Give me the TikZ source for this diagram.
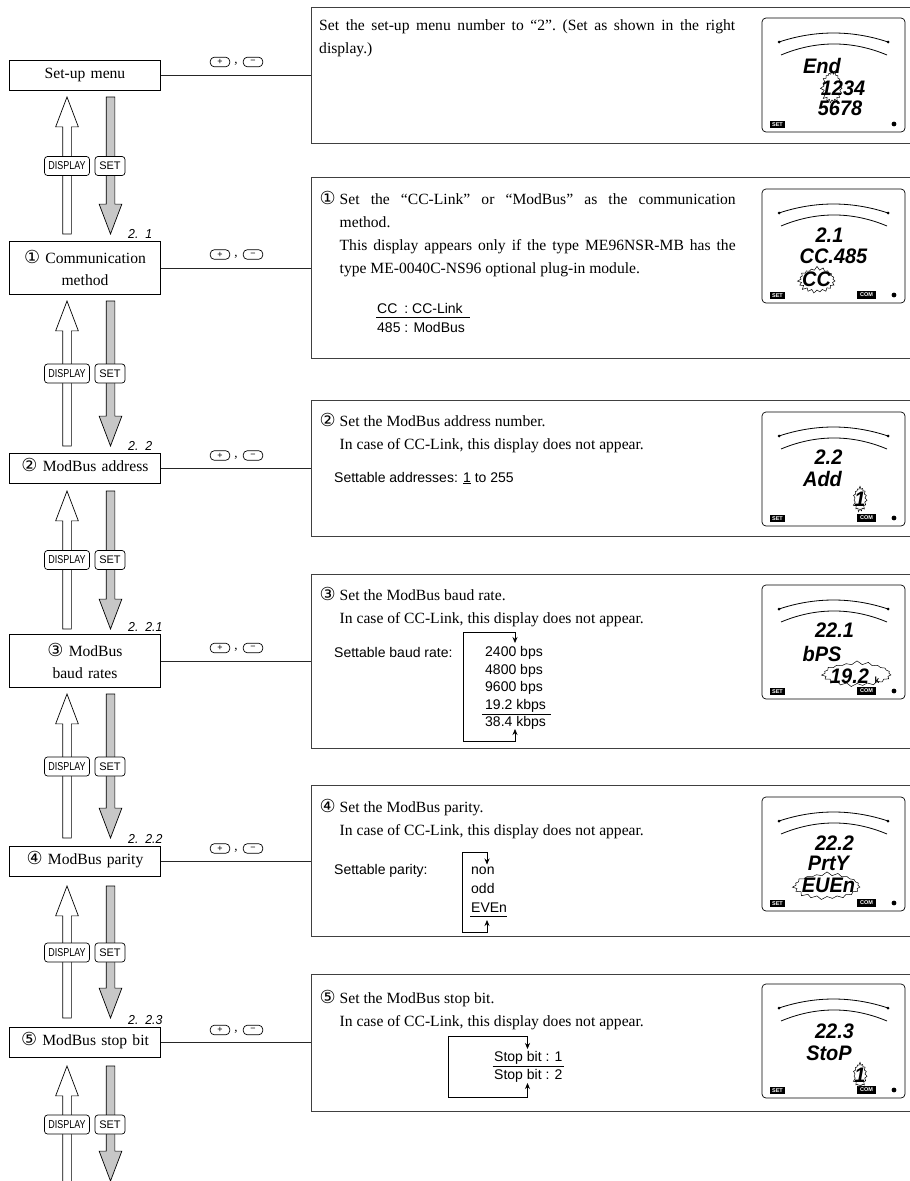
\documentclass[tikz,border=0pt]{standalone}
\usepackage{fontspec}
\setmainfont{Liberation Serif}
\setsansfont{Liberation Sans}
\newfontfamily\circfont[Scale=1.15]{DejaVu Sans}
\newfontfamily\lcdfont[FakeStretch=0.95]{Liberation Sans}
\newfontfamily\keyfont[FakeStretch=0.78]{Liberation Sans}
\usetikzlibrary{shapes.arrows, shapes.symbols, arrows.meta}

\tikzstyle{menubox} = [rectangle, draw=black, line width=0.8pt, fill=white, minimum width=151.7pt, minimum height=30pt, inner sep=0pt, text width=150pt, align=center, font=\fontsize{15.6}{22.7}\selectfont]
\tikzstyle{menuline} = [menubox, text height=10pt, text depth=3.5pt]
\tikzstyle{panelbox} = [rectangle, draw=black!75, line width=1pt, minimum width=604pt]
\tikzstyle{bodytext} = [anchor=north west, inner sep=0pt, text width=396pt, align=justify, font=\fontsize{15.6}{22.7}\selectfont\frenchspacing]
\tikzstyle{sanstext} = [anchor=west, inner sep=0pt, align=left, font=\sffamily\fontsize{14}{17.4}\selectfont]
\tikzstyle{link} = [line width=0.8pt, draw=black!85]
\tikzstyle{uparrow} = [single arrow, shape border rotate=90, draw=black, line width=0.7pt, fill=white, single arrow head extend=7pt, single arrow tip angle=41.6, inner sep=4pt, outer sep=0pt, anchor=tip]
\tikzstyle{downarrow} = [uparrow, shape border rotate=270, fill=black!22]
\tikzstyle{dispkey} = [rectangle, rounded corners=3pt, draw=black, line width=0.7pt, fill=white, minimum width=45pt, minimum height=19pt, inner sep=0pt, font=\keyfont\fontsize{11.5}{12}\selectfont]
\tikzstyle{setkey} = [dispkey, minimum width=30pt, font=\sffamily\fontsize{11}{12}\selectfont]
\tikzstyle{pmkey} = [rectangle, rounded corners=4pt, draw=black, line width=0.7pt, fill=white, minimum width=19.5pt, minimum height=9.5pt, inner sep=0pt, font=\sffamily\fontsize{9}{9}\selectfont]
\tikzstyle{commamark} = [inner sep=0pt, font=\fontsize{13}{13}\selectfont]
\tikzstyle{steptag} = [anchor=south west, inner sep=0pt, font=\lcdfont\itshape\fontsize{13}{13}\selectfont]
\tikzstyle{looparrow} = [line width=0.7pt, {Stealth[length=6pt,width=5pt]}-{Stealth[length=6pt,width=5pt]}]
\tikzstyle{listrule} = [line width=0.7pt]
\tikzstyle{lcdbox} = [rectangle, rounded corners=4pt, draw=black, line width=0.7pt, minimum width=143pt, minimum height=114pt]
\tikzstyle{lcdtag} = [rectangle, fill=black, text=white, inner sep=0pt, minimum width=15pt, minimum height=7.5pt, font=\sffamily\bfseries\fontsize{5.5}{6}\selectfont]
\tikzstyle{lcdtext} = [inner sep=0pt, font=\lcdfont\bfseries\itshape\fontsize{21}{21}\selectfont]
\tikzstyle{burst} = [starburst, starburst points=19, starburst point height=4pt, random starburst=7, draw=black, line width=0.5pt, fill=white, inner sep=0pt]

% LCD face: name, top edge
\newcommand{\lcdface}[2]{
\begin{scope}[shift={(0,#2)}]
\node (lcd#1) [lcdbox] at (833.5,57) {};
\draw [line width=0.8pt] (779,24) .. controls (815,12) and (852,12) .. (888,24);
\draw [line width=0.8pt] (781,37) .. controls (816,22.3) and (852,22.3) .. (887,37);
\fill (779,24) circle (1.5pt);
\fill (888,24) circle (1.5pt);
\fill (894,106) circle (2.4pt);
\node (set#1) [lcdtag] at (777.5,106.5) {SET};
\end{scope}
}

\begin{document}
\begin{tikzpicture}[x=1pt, y=-1pt]
\useasboundingbox (0,0) rectangle (910,1181);

% Menu steps
\node (menu) [menuline] at (85,75) {Set-up menu};
\node (comm) [menubox, minimum height=53pt] at (85,268) {{\circfont ①} Communication\\method};
\node (addr) [menuline] at (85,468) {{\circfont ②} ModBus address};
\node (baud) [menubox, minimum height=53pt] at (85,661) {{\circfont ③} ModBus\\baud rates};
\node (parity) [menuline] at (85,861) {{\circfont ④} ModBus parity};
\node (stop) [menuline] at (85,1042.5) {{\circfont ⑤} ModBus stop bit};

% Step numbers
\node (stepcomm) [steptag] at (128,239) {2.\ \ 1};
\node (stepaddr) [steptag] at (128,451) {2.\ \ 2};
\node (stepbaud) [steptag] at (128,632) {2.\ \ 2.1};
\node (stepparity) [steptag] at (128,844) {2.\ \ 2.2};
\node (stepstop) [steptag] at (128,1025) {2.\ \ 2.3};

% Big arrows
\node (up0) [uparrow, minimum height=137pt] at (67,97) {};
\node (down0) [downarrow, minimum height=137pt] at (110.5,234) {};
\node (up1) [uparrow, minimum height=145pt] at (67,301) {};
\node (down1) [downarrow, minimum height=145pt] at (110.5,446) {};
\node (up2) [uparrow, minimum height=138pt] at (67,491) {};
\node (down2) [downarrow, minimum height=138pt] at (110.5,629) {};
\node (up3) [uparrow, minimum height=144pt] at (67,694) {};
\node (down3) [downarrow, minimum height=144pt] at (110.5,838) {};
\node (up4) [uparrow, minimum height=132pt] at (67,886) {};
\node (down4) [downarrow, minimum height=132pt] at (110.5,1018) {};
\node (up5) [uparrow, minimum height=134pt] at (67,1066) {};
\node (down5) [downarrow, minimum height=115pt] at (110.5,1181) {};

% Keys on the arrows
\node (disp0) [dispkey] at (67,166) {DISPLAY};
\node (set0) [setkey] at (110,166) {SET};
\node (disp1) [dispkey] at (67,373.5) {DISPLAY};
\node (set1) [setkey] at (110,373.5) {SET};
\node (disp2) [dispkey] at (67,560) {DISPLAY};
\node (set2) [setkey] at (110,560) {SET};
\node (disp3) [dispkey] at (67,766.5) {DISPLAY};
\node (set3) [setkey] at (110,766.5) {SET};
\node (disp4) [dispkey] at (67,952.5) {DISPLAY};
\node (set4) [setkey] at (110,952.5) {SET};
\node (disp5) [dispkey] at (67,1124.5) {DISPLAY};
\node (set5) [setkey] at (110,1124.5) {SET};

% Panels
\node (panel0) [panelbox, minimum height=136pt] at (613,75) {};
\node (panel1) [panelbox, minimum height=181pt] at (613,268) {};
\node (panel2) [panelbox, minimum height=136pt] at (613,468) {};
\node (panel3) [panelbox, minimum height=174pt] at (613,661) {};
\node (panel4) [panelbox, minimum height=151pt] at (613,861) {};
\node (panel5) [panelbox, minimum height=137pt] at (613,1042.5) {};

% Connections
\draw [link] (menu) -- (panel0);
\draw [link] (comm) -- (panel1);
\draw [link] (addr) -- (panel2);
\draw [link] (baud) -- (panel3);
\draw [link] (parity) -- (panel4);
\draw [link] (stop) -- (panel5);

% Plus and minus keys
\node (plus0) [pmkey] at (220,62) {+};
\node (comma0) [commamark] at (236,64) {,};
\node (minus0) [pmkey] at (253,62) {−};
\node (plus1) [pmkey] at (220,254.5) {+};
\node (comma1) [commamark] at (236,256.5) {,};
\node (minus1) [pmkey] at (253,254.5) {−};
\node (plus2) [pmkey] at (220,455.5) {+};
\node (comma2) [commamark] at (236,457.5) {,};
\node (minus2) [pmkey] at (253,455.5) {−};
\node (plus3) [pmkey] at (220,648) {+};
\node (comma3) [commamark] at (236,650) {,};
\node (minus3) [pmkey] at (253,648) {−};
\node (plus4) [pmkey] at (220,848.5) {+};
\node (comma4) [commamark] at (236,850.5) {,};
\node (minus4) [pmkey] at (253,848.5) {−};
\node (plus5) [pmkey] at (220,1030) {+};
\node (comma5) [commamark] at (236,1032) {,};
\node (minus5) [pmkey] at (253,1030) {−};

% Panel texts
\node (text0) [bodytext, text width=416pt] at (319,19.5) {Set the set-up menu number to “2”. (Set as shown in the right\linebreak display.)};
\node (text1) [bodytext] at (339.5,191.5) {\llap{{\circfont ①} }Set the “CC-Link” or “ModBus” as the communication\linebreak method.\\This display appears only if the type ME96NSR-MB has the\linebreak type ME-0040C-NS96 optional plug-in module.};
\node (text2) [bodytext] at (339.5,413.5) {\llap{{\circfont ②} }Set the ModBus address number.\\In case of CC-Link, this display does not appear.};
\node (text3) [bodytext] at (339.5,587) {\llap{{\circfont ③} }Set the ModBus baud rate.\\In case of CC-Link, this display does not appear.};
\node (text4) [bodytext] at (339.5,799.5) {\llap{{\circfont ④} }Set the ModBus parity.\\In case of CC-Link, this display does not appear.};
\node (text5) [bodytext] at (339.5,990.5) {\llap{{\circfont ⑤} }Set the ModBus stop bit.\\In case of CC-Link, this display does not appear.};

% Settings
\node (ccname) [sanstext] at (377,308) {CC\hspace{7pt}: CC-Link};
\node (mbname) [sanstext] at (377,327) {485 : ModBus};
\coordinate (ccleft) at (376,317);
\coordinate (ccright) at (470,317);
\draw [listrule] (ccleft) -- (ccright);

\node (addrset) [sanstext] at (334,478) {Settable addresses: \underline{1} to 255};

\node (baudset) [sanstext] at (334,652) {Settable baud rate:};
\node (baudlist) [sanstext] at (485,688) {2400 bps\\4800 bps\\9600 bps\\19.2 kbps\\38.4 kbps};
\coordinate (baudin) at (515,643);
\coordinate (baudout) at (515,729);
\draw [looparrow] (baudout) -- ++(0,12) -- ++(-52,0) -- ++(0,-109) -- ++(52,0) -- (baudin);
\coordinate (baudleft) at (482,714);
\coordinate (baudright) at (551,714);
\draw [listrule] (baudleft) -- (baudright);

\node (parityset) [sanstext] at (334,871) {Settable parity:};
\node (paritylist) [sanstext, font=\sffamily\fontsize{14}{19}\selectfont] at (471,890) {non\\odd\\EVEn};
\coordinate (parityin) at (487,864.5);
\coordinate (parityout) at (487,920);
\draw [looparrow] (parityout) -- ++(0,12) -- ++(-25,0) -- ++(0,-80) -- ++(25,0) -- (parityin);
\coordinate (parityleft) at (470,916);
\coordinate (parityright) at (507,916);
\draw [listrule] (parityleft) -- (parityright);

\node (stoplist) [sanstext] at (494,1067) {Stop bit : 1\\Stop bit : 2};
\coordinate (stopin) at (527.5,1049);
\coordinate (stopout) at (527.5,1083);
\draw [looparrow] (stopout) -- ++(0,14) -- ++(-79.5,0) -- ++(0,-61) -- ++(79.5,0) -- (stopin);
\coordinate (stopleft) at (492.5,1066);
\coordinate (stopright) at (564,1066);
\draw [listrule] (stopleft) -- (stopright);

% Displays
\lcdface{0}{18}
\lcdface{1}{189}
\lcdface{2}{412}
\lcdface{3}{585}
\lcdface{4}{797}
\lcdface{5}{984}

\node (com1) [lcdtag, minimum width=19pt] at (866.5,295) {COM};
\node (com2) [lcdtag, minimum width=19pt] at (866.5,518) {COM};
\node (com3) [lcdtag, minimum width=19pt] at (866.5,691) {COM};
\node (com4) [lcdtag, minimum width=19pt] at (866.5,903) {COM};
\node (com5) [lcdtag, minimum width=19pt] at (866.5,1090) {COM};

\node (burst0) [burst, minimum width=24pt, minimum height=34pt] at (832,87) {};
\node (end0) [lcdtext] at (822,65.5) {End};
\node (nums0) [lcdtext] at (843,88) {1234};
\node (nums1) [lcdtext] at (840,108.5) {5678};

\node (burst1) [burst, minimum width=40pt, minimum height=28pt] at (817,280) {};
\node (num1) [lcdtext] at (829.5,235) {2.1};
\node (mode1) [lcdtext] at (833.5,256.5) {CC.485};
\node (val1) [lcdtext] at (816.5,279) {CC};

\node (burst2) [burst, starburst points=15, minimum width=16pt, minimum height=26pt, starburst point height=3pt] at (860,499) {};
\node (num2) [lcdtext] at (828.5,457.5) {2.2};
\node (mode2) [lcdtext] at (822.5,479) {Add};
\node (val2) [lcdtext] at (860,499) {1};

\node (burst3) [burst, minimum width=72pt, minimum height=27pt] at (857,674) {};
\node (num3) [lcdtext] at (834.5,630.5) {22.1};
\node (mode3) [lcdtext] at (822,654) {bPS};
\node (val3) [lcdtext] at (849.5,676.5) {19.2};
\node (unit3) [lcdtext, font=\lcdfont\bfseries\fontsize{9}{9}\selectfont] at (877,680) {k};

\node (burst4) [burst, minimum width=70pt, minimum height=29pt] at (827,886) {};
\node (num4) [lcdtext] at (834.5,843) {22.2};
\node (mode4) [lcdtext] at (828.5,863.5) {PrtY};
\node (val4) [lcdtext] at (828.5,885.5) {EUEn};

\node (burst5) [burst, starburst points=15, minimum width=16pt, minimum height=26pt, starburst point height=3pt] at (860,1075) {};
\node (num5) [lcdtext] at (834.5,1031.5) {22.3};
\node (mode5) [lcdtext] at (829,1053.5) {StoP};
\node (val5) [lcdtext] at (860,1075) {1};

\end{tikzpicture}
\end{document}
